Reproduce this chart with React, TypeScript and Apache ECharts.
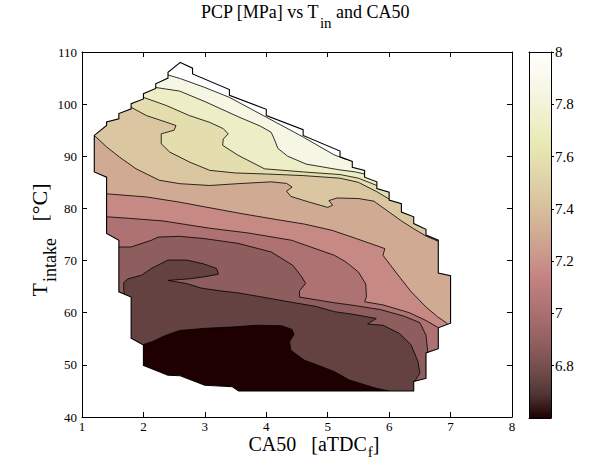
import { useEffect, useRef } from 'react';
import * as echarts from 'echarts';

const FONT = '"Liberation Serif", "Times New Roman", Times, serif';

// ---- axes ----
const xMin = 1;
const xMax = 8;
const yMin = 40;
const yMax = 110;
const cbMin = 6.6;
const cbMax = 8.0;
const cbTicks = [6.8, 7, 7.2, 7.4, 7.6, 7.8, 8];

// ---- contour levels and band colours (MATLAB "pink") ----
const levels = [6.6, 6.74, 6.88, 7.02, 7.16, 7.3, 7.44, 7.58, 7.72, 7.86, 8.0];
const bandColors = ['#1e0000', '#644242', '#8e5d5d', '#ae7272', '#c68984', '#d0aa93', '#dac6a1', '#e4deae', '#ededc6', '#f6f6e4', '#ffffff'];
const cbStops: [number, string][] = [
  [0, '#1e0000'], [0.0625, '#4f3434'], [0.125, '#704a4a'], [0.1875, '#8a5a5a'], [0.25, '#9f6868'],
  [0.3125, '#b27474'], [0.375, '#c38080'], [0.4375, '#ca968a'], [0.5, '#d0aa93'], [0.5625, '#d7bc9c'],
  [0.625, '#ddcca5'], [0.6875, '#e3dbad'], [0.75, '#e9e9b4'], [0.8125, '#efefca'], [0.875, '#f4f4dd'],
  [0.9375, '#fafaef'], [1, '#ffffff'],
];

// ---- measured domain (CA50, T_intake) ----
const domainBoundary = [
  [2.6, 108.0], [2.8, 106.9], [2.8, 105.8], [3.4, 102.8], [3.4, 101.7], [4.0, 99.0], [4.0, 97.8],
  [4.6, 95.1], [4.6, 94.0], [5.2, 91.0], [5.2, 89.9], [5.4, 89.0], [5.4, 87.9], [5.6, 87.3], [5.6, 86.0],
  [5.8, 85.1], [5.8, 83.8], [6.0, 83.1], [6.0, 81.6], [6.2, 80.9], [6.2, 79.3], [6.4, 78.4], [6.4, 77.1],
  [6.6, 76.0], [6.6, 74.9], [6.8, 73.9], [6.8, 67.6], [7.0, 67.1], [7.0, 58.0], [6.8, 57.1], [6.8, 53.1],
  [6.6, 52.3], [6.6, 47.4], [6.4, 46.8], [6.4, 45.0], [3.55, 45.0], [3.45, 45.8], [3.0, 46.1], [2.6, 47.9],
  [2.4, 48.0], [2.0, 49.9], [2.0, 53.8], [1.8, 55.1], [1.8, 63.0], [1.6, 64.0], [1.6, 73.9], [1.4, 75.2],
  [1.4, 86.0], [1.2, 87.0], [1.2, 94.0], [1.4, 95.9], [1.4, 96.6], [1.6, 97.2], [1.6, 98.2], [1.8, 99.1],
  [1.8, 100.1], [2.0, 101.0], [2.0, 102.0], [2.2, 103.0], [2.2, 103.9], [2.4, 105.0], [2.4, 106.1],
];

// ---- contour lines (inside the domain) ----
const c674 = [[2.0, 53.9], [2.13, 54.4], [2.37, 55.7], [2.59, 56.6], [3.0, 57.0], [3.5, 57.3], [3.85, 57.6], [4.25, 57.5], [4.42, 56.8], [4.45, 55.8], [4.38, 54.5], [4.4, 52.8], [4.62, 50.9], [4.85, 49.9], [5.11, 48.7], [5.35, 47.1], [5.79, 45.5], [6.0, 45.0]];
const c688 = [[1.69, 63.6], [1.68, 64.3], [1.68, 65.8], [1.75, 66.5], [1.97, 67.2], [2.13, 68.5], [2.4, 70.1], [2.7, 70.1], [2.97, 69.4], [3.19, 68.5], [3.22, 67.4], [3.0, 66.9], [2.75, 66.5], [2.4, 66.2], [2.7, 65.6], [2.95, 64.7], [3.25, 64.2], [3.54, 63.8], [3.84, 63.2], [4.27, 62.3], [4.81, 61.2], [5.11, 60.2], [5.41, 59.7], [5.79, 58.9], [5.65, 57.8], [5.9, 57.6], [6.17, 56.0], [6.36, 53.8], [6.47, 50.6], [6.5, 48.4], [6.42, 46.9]];
const c702 = [[1.6, 72.6], [1.8, 72.6], [2.13, 73.9], [2.24, 74.5], [2.59, 74.65], [3.0, 74.2], [3.54, 73.3], [4.08, 71.65], [4.43, 69.1], [4.57, 67.0], [4.64, 65.6], [4.54, 64.2], [4.54, 63.0], [4.8, 62.5], [5.11, 61.9], [5.37, 61.5], [5.86, 60.6], [6.25, 59.3], [6.5, 58.1], [6.6, 55.7], [6.63, 52.3]];
const c716 = [[1.4, 78.4], [1.77, 78.1], [2.32, 77.6], [3.08, 76.2], [3.7, 75.3], [4.41, 73.9], [5.11, 71.0], [5.3, 69.7], [5.5, 67.8], [5.62, 65.5], [5.63, 63.0], [5.6, 62.1], [5.9, 61.5], [6.33, 60.0], [6.6, 58.5], [6.79, 57.2]];
const c730 = [[1.4, 82.8], [2.05, 82.2], [2.59, 81.2], [3.0, 80.3], [3.6, 79.0], [4.15, 77.9], [4.62, 77.0], [5.07, 75.8], [5.47, 74.2], [5.93, 72.3], [5.9, 71.0], [6.12, 67.6], [6.36, 64.0], [6.6, 61.1], [6.79, 59.2], [6.95, 57.9]];
const c744 = [[1.2, 94.0], [1.4, 91.8], [1.61, 89.85], [1.88, 87.6], [2.26, 85.4], [2.59, 84.75], [3.08, 84.4], [3.54, 84.75], [4.08, 85.1], [4.33, 84.8], [4.42, 84.1], [4.33, 83.3], [4.4, 82.3], [4.7, 81.2], [5.0, 80.2], [5.08, 80.6], [5.02, 81.5], [5.15, 82.0], [5.5, 81.9], [5.75, 81.4], [6.0, 79.3], [6.2, 77.6], [6.4, 76.1], [6.6, 74.7], [6.8, 73.7]];
const c758 = [[1.8, 99.4], [2.05, 97.8], [2.37, 96.55], [2.53, 95.9], [2.5, 95.0], [2.29, 94.3], [2.29, 92.4], [2.43, 90.8], [2.75, 88.9], [3.08, 87.3], [3.5, 86.8], [4.0, 86.6], [4.6, 86.3], [5.2, 85.8], [5.5, 85.0], [5.8, 83.2], [6.0, 81.8]];
const c772 = [[2.0, 101.3], [2.37, 99.75], [2.75, 97.8], [3.08, 96.5], [3.3, 95.3], [3.38, 94.3], [3.3, 93.3], [3.29, 92.1], [3.54, 90.2], [3.97, 87.6], [4.6, 87.0], [5.2, 86.5], [5.5, 85.8], [5.8, 84.4]];
const c786 = [[2.2, 103.2], [2.59, 102.5], [3.0, 100.5], [3.54, 97.6], [3.9, 95.8], [4.08, 94.6], [4.13, 93.3], [4.19, 91.5], [4.35, 90.0], [4.65, 88.5], [5.19, 87.4], [5.45, 87.0], [5.6, 86.6]];
const c800 = [[2.4, 105.6], [2.6, 104.9], [3.0, 103.2], [3.4, 101.3], [4.0, 97.5], [4.6, 93.7], [5.1, 90.3], [5.3, 89.4]];

// outside anchors used to close each "value above level" region
const contourHeads = [
  [[1, 53.6]], [[1, 62], [1.7, 62]], [[1, 72.6]], [[1, 78.4]], [[1, 82.8]],
  [[1, 95]], [[1, 100.5], [1.7, 100.5]], [[1, 102.5], [1.9, 102.5]], [[1, 104.5], [2.1, 104.5]], [[1, 107], [2.3, 107]],
];
const contourTails = [
  [[6.1, 44], [8, 44]], [[6.5, 45.5], [8, 45.5]], [[6.9, 51.5], [8, 51.5]], [[7.1, 56.5], [8, 56.5]], [[7.3, 57.7], [8, 57.7]],
  [[7.0, 75], [8, 75]], [[6.15, 83.5], [8, 83.5]], [[5.95, 86], [8, 86]], [[5.75, 88], [8, 88]], [[5.5, 90.5], [8, 90.5]],
];
const contourLines = [c674, c688, c702, c716, c730, c744, c758, c772, c786, c800];

export default function App() {
  const ref = useRef<HTMLDivElement>(null);

  useEffect(() => {
    if (!ref.current) return;
    const chart = echarts.init(ref.current, undefined, { renderer: 'svg' });

    const renderContour = (_params: any, api: any) => {
      const P = (pts: number[][]) => pts.map((p) => api.coord(p));
      const children: any[] = [];
      let z = 1;
      const dom = P(domainBoundary);
      children.push({ type: 'polygon', shape: { points: dom }, style: { fill: bandColors[0] }, z2: z++ });
      contourLines.forEach((pts, i) => {
        const poly = [...contourHeads[i], ...pts, ...contourTails[i], [xMax, yMax], [xMin, yMax]];
        children.push({ type: 'polygon', shape: { points: P(poly) }, style: { fill: bandColors[i + 1] }, z2: z++ });
      });
      contourLines.forEach((pts) => {
        children.push({ type: 'polyline', shape: { points: P(pts) }, style: { stroke: '#000', lineWidth: 0.8, fill: null }, z2: z++ });
      });
      const tl = api.coord([xMin, yMax]);
      const br = api.coord([xMax, yMin]);
      // outer frame drawn opposite to the domain's winding -> hole
      let d = `M${tl[0]} ${tl[1]}L${tl[0]} ${br[1]}L${br[0]} ${br[1]}L${br[0]} ${tl[1]}Z`;
      d += 'M' + dom.map((p: number[]) => `${p[0]} ${p[1]}`).join('L') + 'Z';
      children.push({ type: 'path', shape: { pathData: d }, style: { fill: '#ffffff' }, z2: z++ });
      children.push({ type: 'polygon', shape: { points: dom }, style: { fill: null, stroke: '#000', lineWidth: 1.1 }, z2: z++ });
      return { type: 'group', children };
    };

    const renderColorbar = (_params: any, api: any) => {
      const a = api.coord([0, cbMax]);
      const b = api.coord([1, cbMin]);
      return {
        type: 'rect',
        shape: { x: a[0], y: a[1], width: b[0] - a[0], height: b[1] - a[1] },
        style: {
          fill: new echarts.graphic.LinearGradient(0, 1, 0, 0, cbStops.map(([offset, color]) => ({ offset, color }))),
        },
      };
    };

    const line = { show: true, onZero: false, lineStyle: { color: '#000', width: 1 } };
    const label = { color: '#000', fontFamily: FONT, fontSize: 13 };

    chart.setOption({
      animation: false,
      backgroundColor: '#ffffff',
      grid: [
        { left: 82, top: 52, width: 430, height: 365, containLabel: false },
        { left: 529, top: 52, width: 22, height: 366, containLabel: false },
      ],
      xAxis: [
        { gridIndex: 0, type: 'value', min: xMin, max: xMax, interval: 1, position: 'bottom', z: 5, axisLine: line,
          axisTick: { inside: true, length: 5, lineStyle: { color: '#000' } }, axisLabel: { ...label, margin: 3 }, splitLine: { show: false } },
        { gridIndex: 0, type: 'value', min: xMin, max: xMax, interval: 1, position: 'top', z: 5, axisLine: line,
          axisTick: { inside: true, length: 5, lineStyle: { color: '#000' } }, axisLabel: { show: false }, splitLine: { show: false } },
        { gridIndex: 1, type: 'value', min: 0, max: 1, position: 'bottom', z: 5, axisLine: line,
          axisTick: { show: false }, axisLabel: { show: false }, splitLine: { show: false } },
        { gridIndex: 1, type: 'value', min: 0, max: 1, position: 'top', z: 5, axisLine: line,
          axisTick: { show: false }, axisLabel: { show: false }, splitLine: { show: false } },
      ],
      yAxis: [
        { gridIndex: 0, type: 'value', min: yMin, max: yMax, interval: 10, position: 'left', z: 5, axisLine: line,
          axisTick: { inside: true, length: 5, lineStyle: { color: '#000' } }, axisLabel: { ...label, margin: 5 }, splitLine: { show: false } },
        { gridIndex: 0, type: 'value', min: yMin, max: yMax, interval: 10, position: 'right', z: 5, axisLine: line,
          axisTick: { inside: true, length: 5, lineStyle: { color: '#000' } }, axisLabel: { show: false }, splitLine: { show: false } },
        { gridIndex: 1, type: 'value', min: cbMin, max: cbMax, interval: 0.2, position: 'right', z: 5, axisLine: line,
          axisTick: { inside: false, length: 3, lineStyle: { color: '#000' }, customValues: cbTicks },
          axisLabel: { color: '#000', fontFamily: FONT, fontSize: 15, margin: 4, customValues: cbTicks,
            formatter: (v: number) => (v < 6.7 ? '' : String(Math.round(v * 10) / 10)) },
          splitLine: { show: false } },
        { gridIndex: 1, type: 'value', min: cbMin, max: cbMax, interval: 0.2, position: 'left', z: 5, axisLine: line,
          axisTick: { show: false }, axisLabel: { show: false }, splitLine: { show: false } },
      ],
      series: [
        { type: 'custom', name: 'PCP', xAxisIndex: 0, yAxisIndex: 0, clip: true, silent: true,
          data: [[levels[0], yMin]], renderItem: renderContour },
        { type: 'custom', name: 'colorbar', xAxisIndex: 2, yAxisIndex: 2, clip: true, silent: true,
          data: [[0, cbMin]], renderItem: renderColorbar },
      ],
      graphic: [
        { type: 'text', x: 305, y: 3, style: {
          text: '{a|PCP [MPa] vs T}{s|in}{a| and CA50}', align: 'center', verticalAlign: 'top',
          rich: {
            a: { fontFamily: FONT, fontSize: 18, lineHeight: 22, verticalAlign: 'top', fill: '#000' },
            s: { fontFamily: FONT, fontSize: 15, lineHeight: 15, padding: [12, 0, 0, 1], verticalAlign: 'top', fill: '#000' },
          } } },
        { type: 'text', x: 314, y: 434, style: {
          text: '{a|CA50\u00a0\u00a0\u00a0[aTDC}{s|f}{a|]}', align: 'center', verticalAlign: 'top',
          rich: {
            a: { fontFamily: FONT, fontSize: 20, lineHeight: 18, verticalAlign: 'top', fill: '#000' },
            s: { fontFamily: FONT, fontSize: 15, lineHeight: 12, padding: [10, 0, 0, 1], verticalAlign: 'top', fill: '#000' },
          } } },
        { type: 'text', x: 40, y: 240, rotation: Math.PI / 2, style: {
          text: '{a|T}{s|intake}{a|\u00a0\u00a0\u00a0[°C]}', align: 'center', verticalAlign: 'middle',
          rich: {
            a: { fontFamily: FONT, fontSize: 22, lineHeight: 24, verticalAlign: 'top', fill: '#000' },
            s: { fontFamily: FONT, fontSize: 18, lineHeight: 16, padding: [13, 0, 0, 1], verticalAlign: 'top', fill: '#000' },
          } } },
      ],
    });

    return () => chart.dispose();
  }, []);

  return <div ref={ref} style={{ position: 'fixed', left: 0, top: 0, width: 592, height: 466, background: '#fff' }} />;
}
